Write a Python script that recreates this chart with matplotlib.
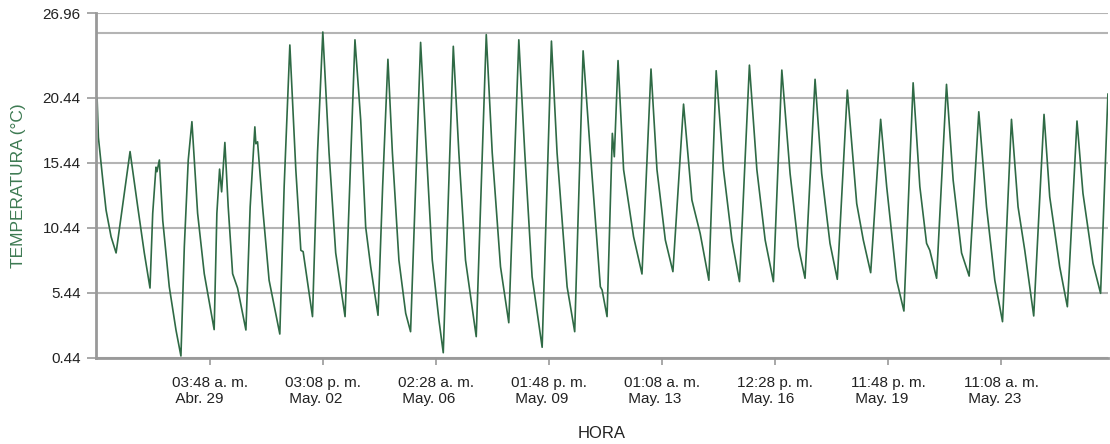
import numpy as np
import pandas as pd
import matplotlib.pyplot as plt

plt.rcParams['font.family'] = ['Liberation Sans', 'DejaVu Sans']

# horas desde 25-abr 00:00 y temperatura (°C)
horas = [16.4, 17.35, 20.6, 23.0, 26.7, 30.4, 40.7, 46.35, 51.2, 55.4,
         57.4, 59.8, 60.55, 62.3, 64.8, 69.6, 74.55, 78.2, 80.7, 83.6,
         86.3, 90.5, 95.4, 102.7, 104.7, 106.7, 108.2, 110.6, 113.05, 116.3,
         119.95, 126.1, 129.25, 132.7, 133.45, 134.7, 138.4, 143.2, 151.1, 154.3,
         158.5, 162.9, 166.6, 168.3, 175.2, 178.9, 182.8, 187.4, 192.3, 199.2,
         206.5, 210.75, 214.4, 218.1, 223.5, 226.9, 230.8, 234.1, 238.9, 243.9,
         247.5, 254.9, 258.6, 263.5, 268.4, 271.6, 279.0, 283.1, 288.0, 295.9,
         303.3, 307.7, 313.8, 319.9, 327.3, 331.7, 337.1, 344.5, 351.35, 355.5,
         362.9, 368.5, 374.7, 380.05, 387.4, 388.7, 392.35, 394.8, 396.25, 397.7,
         400.45, 404.55, 411.9, 418.1, 424.75, 429.15, 435.3, 440.9, 448.75, 454.9,
         461.0, 467.4, 472.8, 478.2, 484.4, 490.0, 497.3, 502.8, 508.9, 515.0,
         521.2, 527.3, 533.4, 538.3, 545.7, 550.6, 556.7, 562.1, 569.5, 576.4,
         581.25, 586.7, 594.05, 598.5, 605.85, 611.2, 618.0, 622.95, 627.9, 630.3,
         635.3, 642.6, 647.5, 653.7, 659.3, 666.4, 672.1, 678.2, 683.9, 690.5,
         695.35, 700.3, 706.9, 714.5, 718.7, 726.05, 731.7, 738.8, 743.2, 750.6,
         756.2, 761.6]
temperatura = [20.4, 17.4, 14.1, 11.8, 9.75, 8.5, 16.3, 12.05, 8.5, 5.8,
               11.55, 15.1, 14.75, 15.65, 11.0, 5.9, 2.57, 0.57, 8.98, 15.65,
               18.6, 11.55, 6.9, 2.6, 11.55, 14.95, 13.2, 17.0, 12.05, 6.9,
               5.8, 2.57, 12.05, 18.2, 16.9, 17.05, 12.05, 6.4, 2.26, 13.6,
               24.5, 14.9, 8.7, 8.6, 3.6, 16.2, 25.5, 16.2, 8.5, 3.6,
               24.9, 18.7, 10.5, 7.44, 3.7, 13.6, 23.4, 16.2, 7.95, 3.86,
               2.44, 24.7, 17.4, 7.95, 3.34, 0.82, 24.4, 16.2, 7.95, 2.06,
               25.3, 16.2, 7.44, 3.13, 24.9, 16.2, 6.67, 1.24, 24.8, 16.2,
               5.9, 2.44, 24.05, 16.2, 5.9, 5.65, 3.6, 12.3, 17.7, 15.9,
               23.3, 14.9, 9.75, 6.88, 22.65, 14.9, 9.5, 7.06, 19.95, 12.57,
               10.0, 6.4, 22.52, 14.9, 9.5, 6.29, 22.95, 14.9, 9.5, 6.29,
               22.57, 14.6, 8.98, 6.55, 21.86, 14.6, 9.24, 6.47, 21.03, 12.3,
               9.5, 6.98, 18.78, 13.6, 6.4, 4.03, 21.59, 13.6, 9.24, 8.7,
               6.55, 21.47, 14.1, 8.5, 6.72, 19.36, 12.05, 6.4, 3.21, 18.78,
               12.05, 8.7, 3.65, 19.16, 12.82, 7.44, 4.36, 18.65, 13.09, 7.7,
               5.39, 20.72]

inicio = pd.Timestamp('2023-04-25 00:00')
xlim_horas = [15.6, 761.5]

tick_fechas = ['2023-04-29 03:48', '2023-05-02 15:08', '2023-05-06 02:28', '2023-05-09 13:48',
               '2023-05-13 01:08', '2023-05-16 12:28', '2023-05-19 23:48', '2023-05-23 11:08']
tick_textos = ['03:48 a. m.\n Abr. 29', '03:08 p. m.\n May. 02', '02:28 a. m.\n May. 06',
               '01:48 p. m.\n May. 09', '01:08 a. m.\n May. 13', '12:28 p. m.\n May. 16',
               '11:48 p. m.\n May. 19', '11:08 a. m.\n May. 23']
y_ticks = [0.44, 5.44, 10.44, 15.44, 20.44, 26.96]

verde = '#2f6a45'
gris = '#b4b4b4'

t = inicio + pd.to_timedelta(horas, unit='h')

fig = plt.figure(figsize=(11.1, 4.44), dpi=100)
ax = fig.add_axes([0.0865, 0.1944, 0.9115, 0.7763])
ax.plot(t, temperatura, color=verde, lw=1.2)

ax.set_xlim(inicio + pd.Timedelta(hours=xlim_horas[0]), inicio + pd.Timedelta(hours=xlim_horas[1]))
ax.set_ylim(0.44, 26.96)
ax.set_yticks(y_ticks)
ax.set_yticklabels(['%.2f' % v for v in y_ticks])
ax.axhline(25.44, color=gris, lw=1.5, zorder=0)
ax.set_xticks(pd.to_datetime(tick_fechas))
ax.set_xticklabels(tick_textos, multialignment='left', linespacing=1.25)

ax.grid(axis='y', color=gris, lw=1.5, zorder=0)
ax.set_axisbelow(True)
for s in ['top', 'right']:
    ax.spines[s].set_visible(False)
for s in ['left', 'bottom']:
    ax.spines[s].set_color('#999999')
    ax.spines[s].set_linewidth(2)
ax.tick_params(axis='both', colors='#999999', width=1.2, labelcolor='#222222', labelsize=11)
ax.tick_params(axis='x', length=5, pad=8)
ax.tick_params(axis='y', length=6.5, pad=4.5)

ax.set_ylabel('TEMPERATURA (°C)', color='#3d7a52', fontsize=12.5, labelpad=12)
ax.set_xlabel('HORA', color='#222222', fontsize=12, labelpad=14)

fig.savefig('out.png', dpi=100)
